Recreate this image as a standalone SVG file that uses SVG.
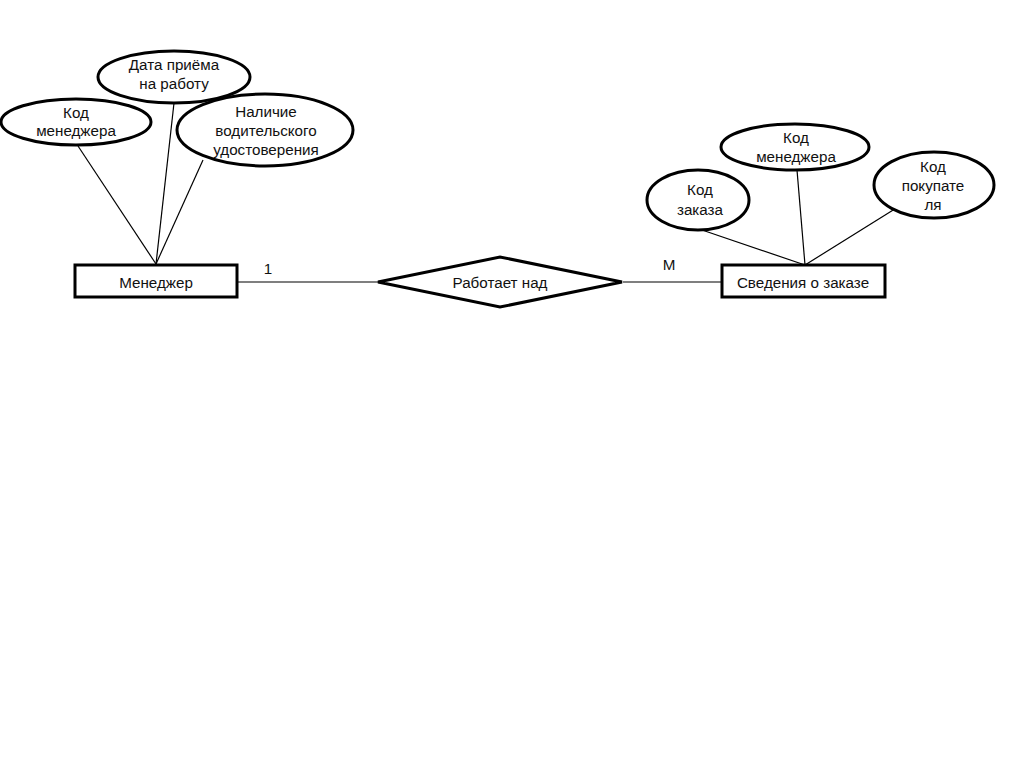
<svg xmlns="http://www.w3.org/2000/svg" width="1024" height="767" viewBox="0 0 1024 767">
<style>
.shape{fill:#fff;stroke:#000;stroke-width:3}
.conn line{stroke:#000;stroke-width:1.2}
text{font-family:"Liberation Sans",Arial,sans-serif;font-size:15.2px;fill:#111;text-anchor:middle}
</style>
<rect width="1024" height="767" fill="#fff"/>
<g class="conn" id="connectors">
<line x1="78" y1="146" x2="156" y2="264"/>
<line x1="174" y1="103" x2="156" y2="264"/>
<line x1="203" y1="160" x2="156" y2="264"/>
<line x1="237" y1="282" x2="378" y2="282"/>
<line x1="623" y1="282" x2="722" y2="282"/>
<line x1="702" y1="230" x2="805" y2="265"/>
<line x1="797" y1="170" x2="805" y2="265"/>
<line x1="898" y1="207" x2="805" y2="265"/>
<text x="268" y="274">1</text>
<text x="669" y="270">M</text>
</g>
<g id="manager">
<rect class="shape" x="75" y="265" width="162" height="32"/>
<text x="156" y="288">Менеджер</text>
</g>
<g id="works">
<polygon class="shape" points="378,282 500,257 622,282 500,307"/>
<text x="500" y="288">Работает над</text>
</g>
<g id="order">
<rect class="shape" x="722" y="265" width="163" height="32"/>
<text x="803" y="288">Сведения о заказе</text>
</g>
<g id="attr-date">
<ellipse class="shape" cx="174" cy="77" rx="76" ry="26"/>
<text x="174" y="70">Дата приёма</text>
<text x="174" y="89">на работу</text>
</g>
<g id="attr-mgr-code">
<ellipse class="shape" cx="76" cy="122" rx="75" ry="23"/>
<text x="76" y="118">Код</text>
<text x="76" y="136">менеджера</text>
</g>
<g id="attr-license">
<ellipse class="shape" cx="265" cy="130" rx="88" ry="36"/>
<text x="266" y="117">Наличие</text>
<text x="266" y="136">водительского</text>
<text x="266" y="155">удостоверения</text>
</g>
<g id="attr-order-mgr">
<ellipse class="shape" cx="795" cy="147" rx="74" ry="23"/>
<text x="796" y="143">Код</text>
<text x="796" y="162">менеджера</text>
</g>
<g id="attr-order-code">
<ellipse class="shape" cx="698" cy="200" rx="51" ry="30"/>
<text x="700" y="195">Код</text>
<text x="700" y="215">заказа</text>
</g>
<g id="attr-customer">
<ellipse class="shape" cx="934" cy="185" rx="60" ry="33"/>
<text x="933" y="172">Код</text>
<text x="933" y="191">покупате</text>
<text x="933" y="210">ля</text>
</g>
</svg>
